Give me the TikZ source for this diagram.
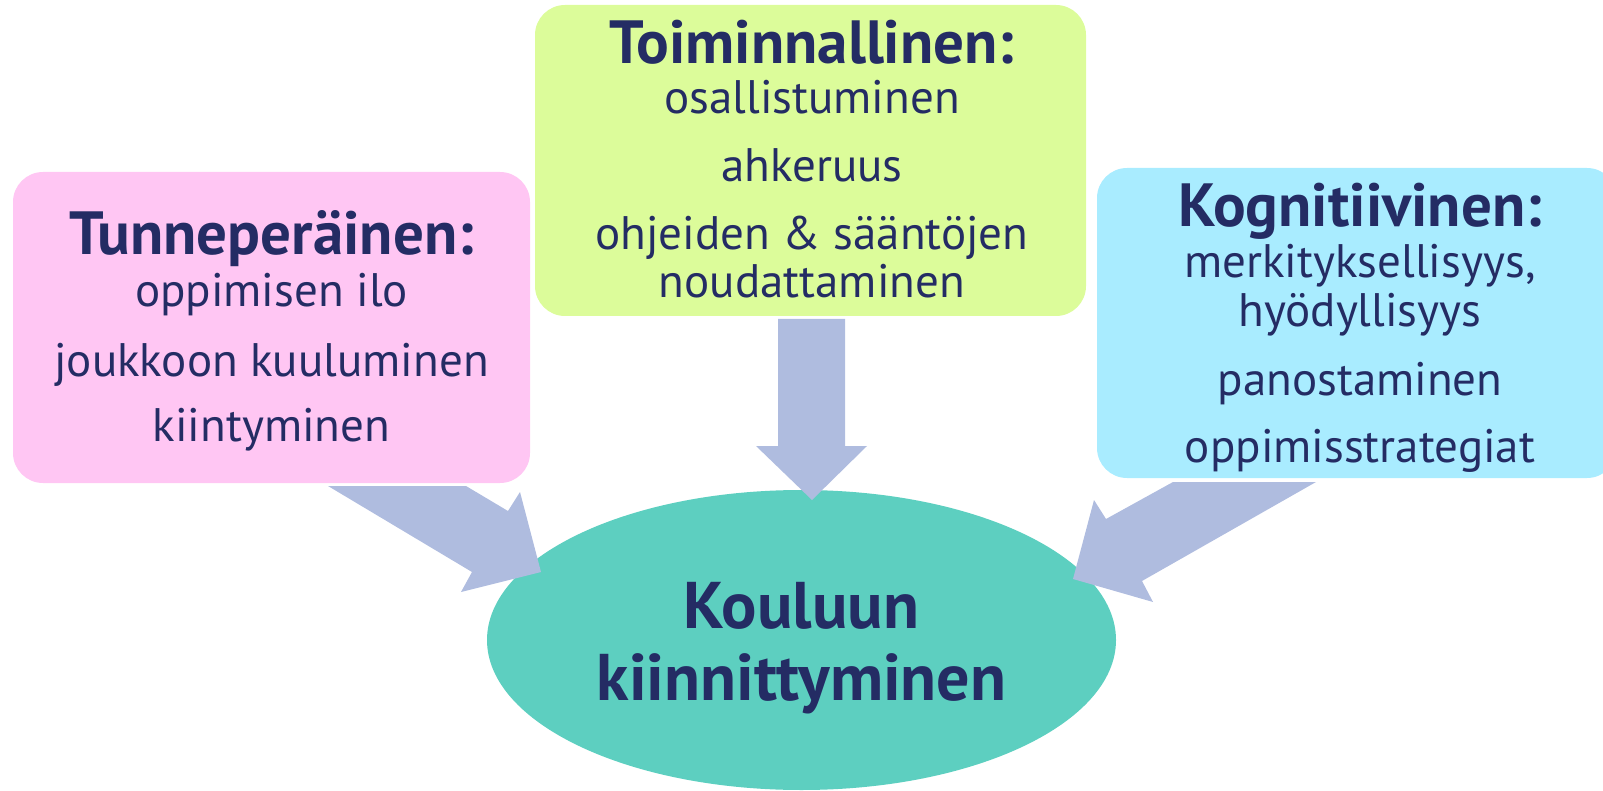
\documentclass[tikz,border=0pt]{standalone}
\usepackage{fontspec}
\setmainfont{PT Sans}
\definecolor{pinkbox}{RGB}{255,198,243}
\definecolor{greenbox}{RGB}{220,252,154}
\definecolor{bluebox}{RGB}{169,236,255}
\definecolor{ellfill}{RGB}{93,207,192}
\definecolor{arrowfill}{RGB}{175,188,223}
\definecolor{navy}{RGB}{36,44,100}
\begin{document}
\begin{tikzpicture}[x=1pt,y=-1pt,
  box/.style={rectangle,rounded corners=30pt,inner sep=0pt,draw=none},
  ttl/.style={anchor=base,inner sep=0pt,text=navy,font=\fontsize{61}{63}\selectfont\bfseries},
  txt/.style={anchor=base,inner sep=0pt,text=navy,font=\fontsize{47}{49}\selectfont},
  etxt/.style={anchor=base,inner sep=0pt,text=navy,font=\fontsize{66}{68}\selectfont\bfseries},
  blockarrow/.style={fill=arrowfill,draw=none}]
\useasboundingbox (0,0) rectangle (1603,791);
% boxes
\node[box,fill=pinkbox,minimum width=517pt,minimum height=311pt] (tp) at (271.5,327.5) {};
\node[box,fill=greenbox,minimum width=551pt,minimum height=311pt] (to) at (810.5,160.5) {};
\node[box,fill=bluebox,minimum width=520pt,minimum height=310pt] (ko) at (1357,323) {};
% ellipse
\fill[ellfill] (801.5,640) ellipse [x radius=314.5, y radius=150];
\coordinate (kk) at (801.5,640);
% arrows
\fill[blockarrow] (328,486) -- (466,486) -- (508,511) -- (520,492) -- (541,572) -- (461,592) -- (472,572) -- cycle;
\fill[blockarrow] (778,319) -- (845,319) -- (845,446) -- (867,446) -- (812,500) -- (756,446) -- (778,446) -- cycle;
\fill[blockarrow] (1316,482) -- (1173,482) -- (1106,519) -- (1094,500) -- (1073,579) -- (1153,602) -- (1142,581) -- cycle;
% pink text
\node[ttl] (tpt) at (271.5,255) {Tunneperäinen:};
\node[txt] (tp1) at (271.5,307) {oppimisen ilo};
\node[txt] (tp2) at (271.5,376) {joukkoon kuuluminen};
\node[txt] (tp3) at (271.5,441) {kiintyminen};
% green text
\node[ttl] (tot) at (812,64) {Toiminnallinen:};
\node[txt] (to1) at (812,114) {osallistuminen};
\node[txt] (to2) at (812,182) {ahkeruus};
\node[txt] (to3) at (812,250) {ohjeiden \& sääntöjen};
\node[txt] (to4) at (812,298) {noudattaminen};
% blue text
\node[ttl] (kot) at (1360,227) {Kognitiivinen:};
\node[txt] (ko1) at (1360,278) {merkityksellisyys,};
\node[txt] (ko2) at (1360,327) {hyödyllisyys};
\node[txt] (ko3) at (1360,395) {panostaminen};
\node[txt] (ko4) at (1360,462) {oppimisstrategiat};
% ellipse text
\node[etxt] (e1) at (801.5,628) {Kouluun};
\node[etxt] (e2) at (801.5,700) {kiinnittyminen};
\end{tikzpicture}
\end{document}
